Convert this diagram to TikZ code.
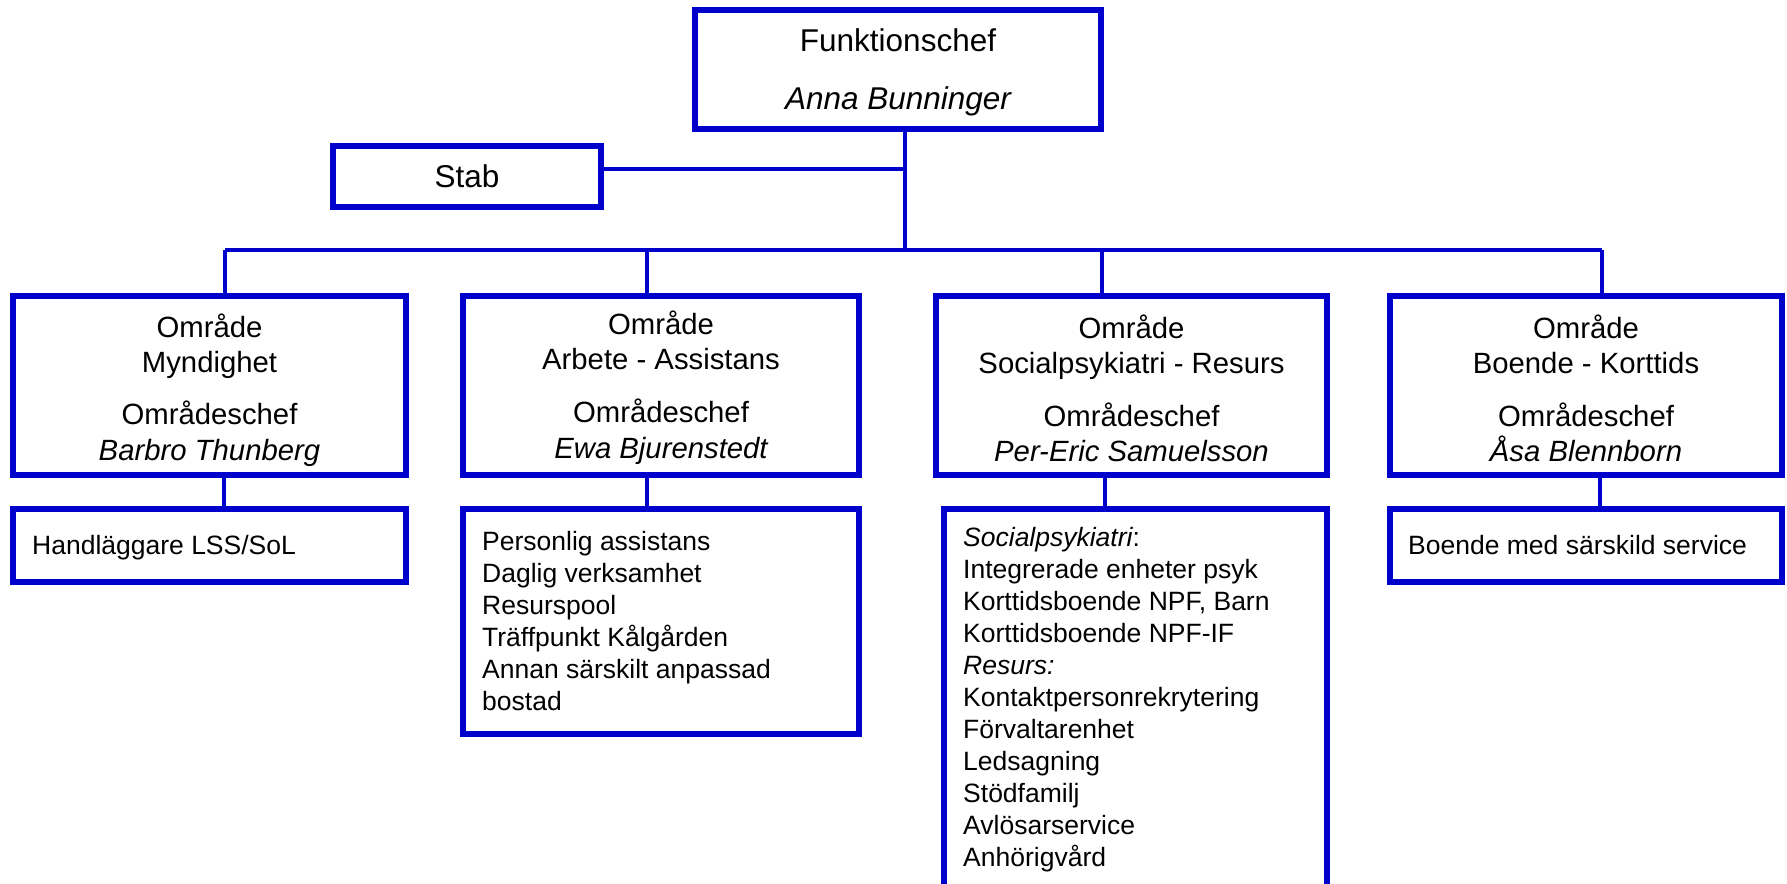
\documentclass[tikz,border=0pt]{standalone}
\usepackage{fontspec}
\setmainfont{Liberation Sans}
\definecolor{orgblue}{RGB}{0,0,204}
\tikzset{
  box/.style={draw=orgblue, line width=5.7pt, rectangle, inner sep=0pt, fill=white},
  conn/.style={draw=orgblue, line width=4.8pt},
  txt/.style={inner sep=0pt, anchor=base, text=black},
  ltxt/.style={inner sep=0pt, anchor=base west, text=black},
  topfont/.style={font=\fontsize{31.5}{37}\selectfont},
  titlefont/.style={font=\fontsize{29.3}{35}\selectfont},
  subfont/.style={font=\fontsize{26.5}{32}\selectfont},
}
\begin{document}
\begin{tikzpicture}[x=1pt,y=-1pt]
\useasboundingbox (0,0) rectangle (1787,883);
\clip (0,0) rectangle (1787,883);
\fill[white] (0,0) rectangle (1787,883);

% boxes
\node[box, minimum width=406.3pt, minimum height=119.3pt] (top) at (898,69.5) {};
\node[box, minimum width=268.3pt, minimum height=61.3pt] (stab) at (467,176.5) {};
\node[box, minimum width=393.3pt, minimum height=179.3pt] (a1) at (209.5,385.5) {};
\node[box, minimum width=396.3pt, minimum height=179.3pt] (a2) at (661,385.5) {};
\node[box, minimum width=391.3pt, minimum height=179.3pt] (a3) at (1131.5,385.5) {};
\node[box, minimum width=392.3pt, minimum height=179.3pt] (a4) at (1586,385.5) {};
\node[box, minimum width=393.3pt, minimum height=73.3pt] (s1) at (209.5,545.5) {};
\node[box, minimum width=396.3pt, minimum height=225.3pt] (s2) at (661,621.5) {};
\node[box, minimum width=383.3pt, minimum height=408.3pt] (s3) at (1135.5,713) {};
\node[box, minimum width=392.3pt, minimum height=73.3pt] (s4) at (1586,545.5) {};

% junction coordinates
\coordinate (j) at (905,250);
\coordinate (sj) at (905,169);
\coordinate (b1) at (225,250);
\coordinate (b2) at (647,250);
\coordinate (b3) at (1102,250);
\coordinate (b4) at (1602,250);
\coordinate (c1) at (224,480);
\coordinate (c2) at (647,480);
\coordinate (c3) at (1105,480);
\coordinate (c4) at (1600,480);

% connectors
\draw[conn] (top.south -| j) -- (j);
\draw[conn] (sj -| stab.east) -- (sj);
\draw[conn] (b1) -- (b4);
\draw[conn] (b1) -- (b1 |- a1.north);
\draw[conn] (b2) -- (b2 |- a2.north);
\draw[conn] (b3) -- (b3 |- a3.north);
\draw[conn] (b4) -- (b4 |- a4.north);
\draw[conn] (c1 |- a1.south) -- (c1 |- s1.north);
\draw[conn] (c2 |- a2.south) -- (c2 |- s2.north);
\draw[conn] (c3 |- a3.south) -- (c3 |- s3.north);
\draw[conn] (c4 |- a4.south) -- (c4 |- s4.north);

% top texts
\node[txt, topfont] (t1) at (898,52) {Funktionschef};
\node[txt, topfont] (t2) at (898,109) {\itshape Anna Bunninger};
\node[txt, topfont] (st) at (467,187) {Stab};

% area titles
\node[txt, titlefont] (a1l1) at (209.5,337) {Område};
\node[txt, titlefont] (a1l2) at (209.5,372) {Myndighet};
\node[txt, titlefont] (a1l3) at (209.5,424) {Områdeschef};
\node[txt, titlefont] (a1l4) at (209.5,460) {\itshape Barbro Thunberg};

\node[txt, titlefont] (a2l1) at (661,334) {Område};
\node[txt, titlefont] (a2l2) at (661,369) {Arbete - Assistans};
\node[txt, titlefont] (a2l3) at (661,422) {Områdeschef};
\node[txt, titlefont] (a2l4) at (661,458) {\itshape Ewa Bjurenstedt};

\node[txt, titlefont] (a3l1) at (1131.5,338) {Område};
\node[txt, titlefont] (a3l2) at (1131.5,373) {Socialpsykiatri - Resurs};
\node[txt, titlefont] (a3l3) at (1131.5,426) {Områdeschef};
\node[txt, titlefont] (a3l4) at (1131.5,461) {\itshape Per-Eric Samuelsson};

\node[txt, titlefont] (a4l1) at (1586,338) {Område};
\node[txt, titlefont] (a4l2) at (1586,373) {Boende - Korttids};
\node[txt, titlefont] (a4l3) at (1586,426) {Områdeschef};
\node[txt, titlefont] (a4l4) at (1586,461) {\itshape Åsa Blennborn};

% sub texts
\node[ltxt, subfont] (s1l) at (32,554) {Handläggare LSS/SoL};
\node[ltxt, subfont] (s4l) at (1408,554) {Boende med särskild service};

\foreach \t [count=\i from 0] in {Personlig assistans, Daglig verksamhet, Resurspool, Träffpunkt Kålgården, Annan särskilt anpassad, bostad}
  \node[ltxt, subfont] (s2l\i) at (482,550+32*\i) {\t};

\foreach \t [count=\i from 0] in {{\itshape Socialpsykiatri\upshape:}, Integrerade enheter psyk, {Korttidsboende NPF, Barn}, Korttidsboende NPF-IF, {\itshape Resurs:}, Kontaktpersonrekrytering, Förvaltarenhet, Ledsagning, Stödfamilj, Avlösarservice, Anhörigvård}
  \node[ltxt, subfont] (s3l\i) at (963,546+32*\i) {\t};
\end{tikzpicture}
\end{document}
